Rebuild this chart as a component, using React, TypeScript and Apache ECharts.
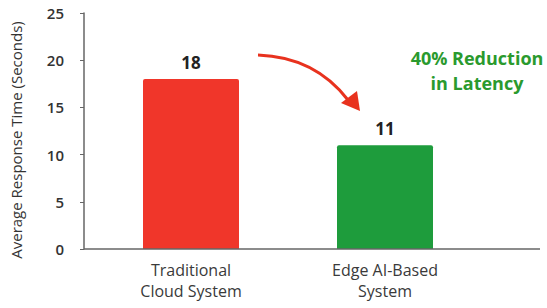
import React, { useEffect, useRef } from "react";
import * as echarts from "echarts";

const categories = ["Traditional\nCloud System", "Edge AI-Based\nSystem"];
const responseTimes = [18, 11];
const barColors = ["#F0362A", "#1E9C3C"];
const yTicks = [0, 5, 10, 15, 20, 25];
const annotation = "40% Reduction\nin Latency";
const yName = "Average Response Time (Seconds)";

const FONT = "'Open Sans', Lato, sans-serif";

export default function App() {
  const ref = useRef<HTMLDivElement>(null);
  useEffect(() => {
    if (!ref.current) return;
    const chart = echarts.init(ref.current, undefined, { renderer: "svg" });
    chart.setOption({
      animation: false,
      backgroundColor: "#ffffff",
      grid: { left: 94, right: 65, top: 13, bottom: 59 },
      xAxis: {
        type: "category",
        data: categories,
        axisLine: { show: false },
        axisTick: { show: false },
        axisLabel: {
          color: "#3a3a3a",
          fontSize: 16,
          fontWeight: 500,
          fontFamily: FONT,
          lineHeight: 21,
          margin: 10,
        },
      },
      yAxis: {
        type: "value",
        min: yTicks[0],
        max: yTicks[yTicks.length - 1],
        interval: 5,
        offset: 10,
        name: yName,
        nameLocation: "middle",
        nameGap: 61,
        nameTextStyle: { color: "#333", fontSize: 15, fontFamily: FONT, padding: [0, 18, 0, 0] },
        splitLine: { show: false },
        axisLine: { show: true, lineStyle: { color: "#666", width: 1.5 } },
        axisTick: { show: true, inside: false, length: 4, lineStyle: { color: "#666" } },
        axisLabel: { color: "#333", fontSize: 15, fontFamily: FONT, fontWeight: 600, margin: 20 },
      },
      graphic: [
        {
          type: "line",
          shape: { x1: 84, y1: 249, x2: 540, y2: 249 },
          style: { stroke: "#666", lineWidth: 1.5 },
          z: 10,
        },
        {
          type: "bezierCurve",
          shape: { x1: 258, y1: 55, x2: 348, y2: 100, cpx1: 315, cpy1: 57 },
          style: { stroke: "#E8321E", lineWidth: 3, fill: null },
        },
        {
          type: "polygon",
          shape: { points: [[360, 111], [341, 103], [357, 91]] },
          style: { fill: "#E8321E" },
        },
        {
          type: "text",
          x: 477,
          y: 70,
          style: {
            text: annotation,
            fill: "#2A9A2E",
            font: `bold 18px ${FONT}`,
            align: "center",
            verticalAlign: "middle",
            lineHeight: 25,
          },
        },
      ],
      series: [
        {
          type: "bar",
          barWidth: 96,
          data: responseTimes.map((v, i) => ({
            value: v,
            itemStyle: { color: barColors[i], borderRadius: [2, 2, 0, 0] },
          })),
          label: {
            show: true,
            position: "top",
            distance: 8,
            color: "#222",
            fontSize: 17,
            fontWeight: "bold",
            fontFamily: FONT,
          },
        },
      ],
    });
    return () => chart.dispose();
  }, []);
  return <div ref={ref} style={{ width: 547, height: 308, position: "absolute", left: 0, top: 0 }} />;
}
